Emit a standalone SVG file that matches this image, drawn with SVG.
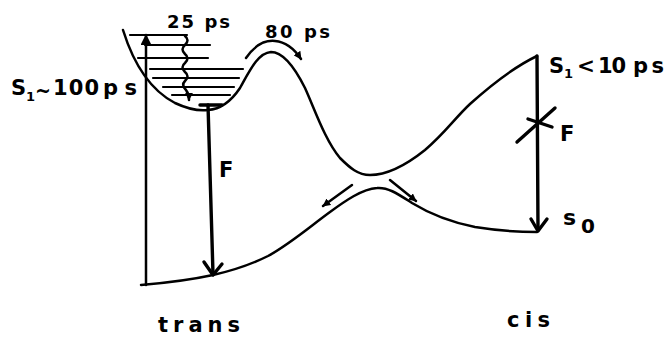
<svg xmlns="http://www.w3.org/2000/svg" width="668" height="337" viewBox="0 0 668 337">
<style>
.c{fill:none;stroke:#000;stroke-width:2.5;stroke-linecap:round;stroke-linejoin:round}
.lv{fill:none;stroke:#000;stroke-width:2.2;stroke-linecap:round}
.th{fill:none;stroke:#000;stroke-width:3.4;stroke-linecap:round;stroke-linejoin:round}
.t{font-family:"DejaVu Sans",sans-serif;font-weight:bold;fill:#000}
</style>
<defs>
<marker id="tri" viewBox="0 0 10 10" refX="9" refY="5" markerWidth="12" markerHeight="11" markerUnits="userSpaceOnUse" orient="auto">
<path d="M0,0 L10,5 L0,10 z" fill="#000"/>
</marker>
<marker id="triS" viewBox="0 0 10 10" refX="9" refY="5" markerWidth="8" markerHeight="8" markerUnits="userSpaceOnUse" orient="auto">
<path d="M0,0 L10,5 L0,10 z" fill="#000"/>
</marker>
</defs>
<rect width="668" height="337" fill="#fff"/>

<g id="s1-curve">
<path class="c" d="M123,30 C133,62 150,90 175,103 C190,110 200,111 208,110 C222,109 232,100 240,88 C250,70 258,53 271,52 C283,52 295,68 305,88 C315,110 325,140 340,158 C350,168 358,175 370,175 C385,175 405,166 425,150 C445,133 455,118 470,104 C490,86 512,68 537,56"/>
</g>
<g id="s0-curve">
<path class="c" d="M141,285 C165,283 190,280 213,275 C235,270 252,264 268,256 C290,244 312,225 330,212 C345,201 362,189 377,188 C388,187 398,194 412,203 C430,214 450,222 475,227 C500,231 520,232 537,232"/>
</g>

<g id="levels">
<line class="lv" x1="130" y1="35" x2="187" y2="35"/>
<line class="lv" x1="145" y1="45" x2="210" y2="45"/>
<line class="lv" x1="138" y1="58" x2="208" y2="58"/>
<line class="lv" x1="150" y1="69" x2="243" y2="69"/>
<line class="lv" x1="153" y1="78" x2="239" y2="78"/>
<line class="lv" x1="163" y1="87" x2="234" y2="87"/>
<line class="lv" x1="172" y1="95" x2="230" y2="95"/>
</g>

<g id="connectors">
<line class="c" x1="146" y1="285" x2="146" y2="35" marker-end="url(#tri)"/>
<path class="c" stroke-width="2" d="M185,36 q5,4 0,9 q-5,4 0,9 q5,4 0,9 q-5,4 0,9 q5,4 0,9 q-4,4 1,9 q3,4 3,10" marker-end="url(#triS)"/>
<line class="th" x1="200" y1="105" x2="222" y2="105"/>
<line class="th" x1="208" y1="105" x2="213" y2="274"/>
<polyline class="th" points="204,262 213,275 222,264"/>
<path class="c" d="M246,58 C255,45 265,40 275,41 C287,42 295,50 301,59" marker-end="url(#triS)"/>
<line class="c" x1="352" y1="185" x2="323" y2="206" marker-end="url(#triS)"/>
<line class="c" x1="390" y1="180" x2="416" y2="201" marker-end="url(#triS)"/>
<line class="th" x1="537" y1="56" x2="538" y2="230"/>
<polyline class="th" points="531,219 538,231 547,219"/>
<line class="th" x1="517" y1="142" x2="555" y2="108"/>
<line class="th" x1="528" y1="119" x2="552" y2="127"/>
</g>

<g id="labels">
<text class="t" font-size="18" x="167" y="28" textLength="63" lengthAdjust="spacing">25 ps</text>
<text class="t" font-size="18" x="265" y="38" textLength="65" lengthAdjust="spacing">80 ps</text>
<g id="label-s1-trans">
<text class="t" font-size="21" x="11" y="95">S</text>
<text class="t" font-size="13" x="26" y="101">1</text>
<text class="t" font-size="21" x="35" y="98" textLength="16" lengthAdjust="spacingAndGlyphs">~</text>
<text class="t" font-size="21" x="53" y="95" textLength="46" lengthAdjust="spacing">100</text>
<text class="t" font-size="21" x="103" y="95" textLength="34" lengthAdjust="spacing">ps</text>
</g>
<g id="label-s1-cis">
<text class="t" font-size="21" x="549" y="73">S</text>
<text class="t" font-size="13" x="564" y="78">1</text>
<text class="t" font-size="21" x="577" y="73" textLength="18" lengthAdjust="spacingAndGlyphs">&lt;</text>
<text class="t" font-size="21" x="598" y="73" textLength="28" lengthAdjust="spacing">10</text>
<text class="t" font-size="21" x="633" y="73" textLength="31" lengthAdjust="spacing">ps</text>
</g>
<text class="t" font-size="21" x="219" y="177">F</text>
<text class="t" font-size="21" x="560" y="141">F</text>
<g id="label-s0">
<text class="t" font-size="22" x="563" y="225">s</text>
<text class="t" font-size="20" x="581" y="233">0</text>
</g>
<text class="t" font-size="21" x="158" y="332" textLength="82" lengthAdjust="spacing">trans</text>
<text class="t" font-size="21" x="507" y="327" textLength="43" lengthAdjust="spacing">cis</text>
</g>
</svg>
